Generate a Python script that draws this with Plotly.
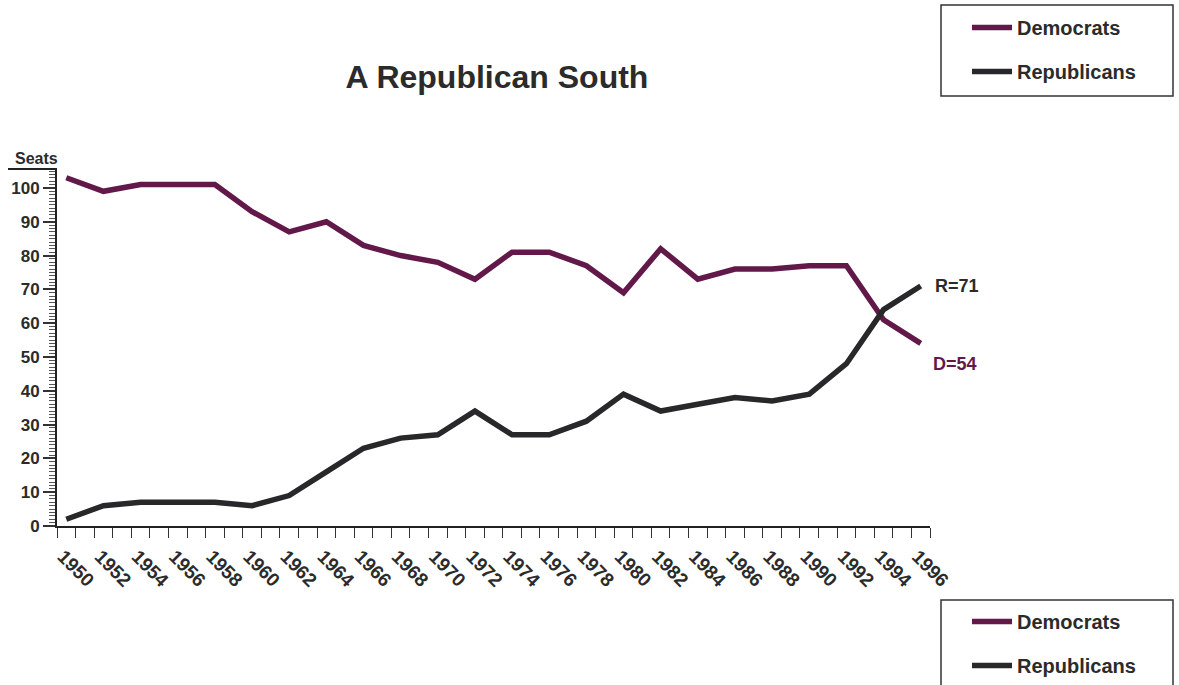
import plotly.graph_objects as go

years = [1950, 1952, 1954, 1956, 1958, 1960, 1962, 1964, 1966, 1968, 1970, 1972,
         1974, 1976, 1978, 1980, 1982, 1984, 1986, 1988, 1990, 1992, 1994, 1996]
democrats = [103, 99, 101, 101, 101, 93, 87, 90, 83, 80, 78, 73,
             81, 81, 77, 69, 82, 73, 76, 76, 77, 77, 61, 54]
republicans = [2, 6, 7, 7, 7, 6, 9, 16, 23, 26, 27, 34,
               27, 27, 31, 39, 34, 36, 38, 37, 39, 48, 64, 71]
tick_labels = [str(y) for y in years]
ytick_vals = [0, 10, 20, 30, 40, 50, 60, 70, 80, 90, 100]

DEM = "#62194a"
REP = "#28282a"
TXT = "#2b2b2b"
FONT = "Liberation Sans"

W, H = 1179, 685
L, R, T, B = 57, 930, 169, 526  # plot area in page pixels (body margin removed)


def px(sx):
    return (sx - L) / (R - L)


def py(sy):
    return (B - sy) / (B - T)


fig = go.Figure()
fig.add_trace(go.Scatter(x=years, y=democrats, mode="lines", name="Democrats",
                         line=dict(color=DEM, width=5.5), legendgroup="d", legend="legend"))
fig.add_trace(go.Scatter(x=years, y=republicans, mode="lines", name="Republicans",
                         line=dict(color=REP, width=5.5), legendgroup="r", legend="legend"))
# second (bottom) legend copies
fig.add_trace(go.Scatter(x=[None], y=[None], mode="lines", name="Democrats",
                         line=dict(color=DEM, width=5.5), legendgroup="d2", legend="legend2"))
fig.add_trace(go.Scatter(x=[None], y=[None], mode="lines", name="Republicans",
                         line=dict(color=REP, width=5.5), legendgroup="r2", legend="legend2"))

legend_style = dict(
    bgcolor="rgba(0,0,0,0)", borderwidth=0,
    font=dict(family=FONT, size=20, color=TXT, weight="bold"),
    itemwidth=40, tracegroupgap=15, xanchor="left", yanchor="top",
)

box = dict(color="#333", width=1.5)

fig.update_layout(
    width=W, height=H,
    paper_bgcolor="white", plot_bgcolor="white",
    margin=dict(l=L, r=W - R, t=T, b=H - B, autoexpand=False),
    font=dict(family=FONT, color=TXT),
    title=dict(text="A Republican South", x=497 / W, xanchor="center",
               y=1 - 77 / H, yanchor="middle",
               font=dict(family=FONT, size=32, color=TXT, weight="bold")),
    showlegend=True,
    legend=dict(x=px(967), y=py(8), **legend_style),
    legend2=dict(x=px(967), y=py(602), **legend_style),
    xaxis=dict(
        range=[1949.5, 1996.5], showgrid=False, zeroline=False,
        showline=True, linecolor="#222", linewidth=2,
        tickvals=[y - 0.5 for y in years], ticktext=tick_labels,
        ticks="outside", ticklen=10, tickwidth=1.2, tickcolor="#333",
        tickangle=45, ticklabelshift=6,
        tickfont=dict(family=FONT, size=19, color=TXT, weight="bold"),
        minor=dict(dtick=1, tick0=1949.5, ticks="outside", ticklen=10,
                   tickwidth=1.2, tickcolor="#333", showgrid=False),
    ),
    yaxis=dict(
        range=[0, 105.6], showgrid=False, zeroline=False,
        showline=True, linecolor="#222", linewidth=2,
        tickvals=ytick_vals,
        ticks="outside", ticklen=12, tickwidth=1.5, tickcolor="#333",
        tickfont=dict(family=FONT, size=17, color=TXT, weight="bold"),
        minor=dict(dtick=1, tick0=0, ticks="outside", ticklen=6,
                   tickwidth=1, tickcolor="#555", showgrid=False),
    ),
    annotations=[
        dict(text="Seats", xref="paper", yref="paper", x=px(13), y=1.0,
             xanchor="left", yanchor="bottom", showarrow=False,
             font=dict(family=FONT, size=16, color=TXT, weight="bold")),
        dict(text="R=71", xref="paper", yref="y", x=1.0, xshift=3, y=republicans[-1],
             xanchor="left", yanchor="middle", showarrow=False,
             font=dict(family=FONT, size=18, color=TXT, weight="bold")),
        dict(text="D=54", xref="paper", yref="y", x=1.0, xshift=1, y=democrats[-1] - 6,
             xanchor="left", yanchor="middle", showarrow=False,
             font=dict(family=FONT, size=18, color=DEM, weight="bold")),
    ],
    shapes=[
        dict(type="line", xref="paper", yref="paper", x0=px(8), x1=0, y0=1, y1=1,
             line=dict(color="#222", width=2)),
        dict(type="rect", xref="paper", yref="paper", x0=px(941), x1=px(1173),
             y0=py(96), y1=py(5), line=box, fillcolor="rgba(0,0,0,0)"),
        dict(type="rect", xref="paper", yref="paper", x0=px(941), x1=px(1173),
             y0=py(700), y1=py(600), line=box, fillcolor="rgba(0,0,0,0)"),
    ],
)

fig.write_html("out.html", config={"displayModeBar": False},
               post_script="document.body.style.margin='0';document.body.style.overflow='hidden';")
